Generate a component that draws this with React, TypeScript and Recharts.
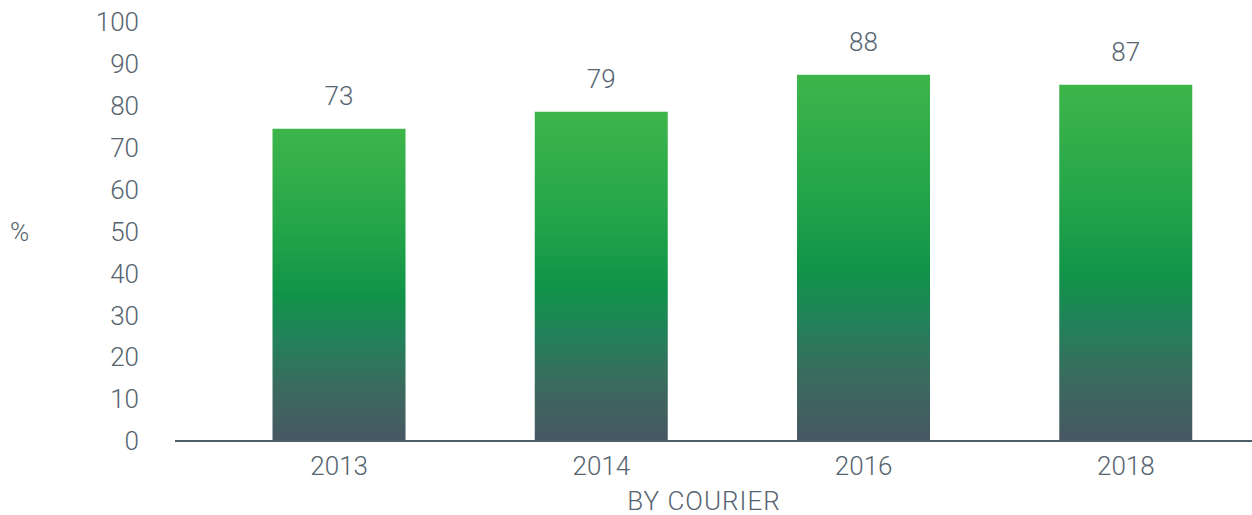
import React from 'react';
import { BarChart, Bar, XAxis, YAxis, LabelList, Label } from 'recharts';

const categories = ['2013', '2014', '2016', '2018'];
const barValues = [74.5, 78.6, 87.4, 85.0];
const labelTexts = ['73', '79', '88', '87'];
const yTicks = [0, 10, 20, 30, 40, 50, 60, 70, 80, 90, 100];

const data = categories.map((c, i) => ({ year: c, value: barValues[i], label: labelTexts[i] }));

const TEXT = '#56646f';
const FONT = 'Roboto, "Liberation Sans", sans-serif';
const textStyle = { fill: TEXT, fontSize: 26, fontFamily: FONT, fontWeight: 300 };

export default function App() {
  return (
    <div style={{ position: 'absolute', left: 0, top: 0, width: 1252, height: 515, overflow: 'hidden', background: '#fff' }}>
      <BarChart
        width={1257}
        height={515}
        data={data}
        margin={{ top: 22, right: 0, bottom: 0, left: 0 }}
        barCategoryGap="24.6%"
      >
        <defs>
          <linearGradient id="barGrad" x1="0" y1="0" x2="0" y2="1">
            <stop offset="0%" stopColor="#3db54a" />
            <stop offset="30%" stopColor="#26a64a" />
            <stop offset="53%" stopColor="#109448" />
            <stop offset="68%" stopColor="#23805a" />
            <stop offset="82%" stopColor="#3a6b5e" />
            <stop offset="100%" stopColor="#475763" />
          </linearGradient>
        </defs>
        <XAxis
          dataKey="year"
          height={74}
          padding={{ left: 33, right: 0 }}
          tickLine={false}
          axisLine={{ stroke: '#4e5e69', strokeWidth: 2 }}
          tick={textStyle}
          tickMargin={10}
        >
          <Label
            value="BY COURIER"
            position="insideBottom"
            offset={0}
            dx={-12}
            dy={-5}
            style={{ ...textStyle, letterSpacing: 1 }}
          />
        </XAxis>
        <YAxis
          width={175}
          domain={[0, 100]}
          ticks={yTicks}
          interval={0}
          axisLine={false}
          tickLine={false}
          tickSize={6}
          tickMargin={30}
          tick={textStyle}
        >
          <Label
            value="%"
            position="insideLeft"
            offset={10}
            style={{ ...textStyle, textAnchor: 'start' }}
          />
        </YAxis>
        <Bar dataKey="value" fill="url(#barGrad)" isAnimationActive={false}>
          <LabelList
            dataKey="label"
            position="top"
            offset={24}
            style={textStyle}
          />
        </Bar>
      </BarChart>
    </div>
  );
}
